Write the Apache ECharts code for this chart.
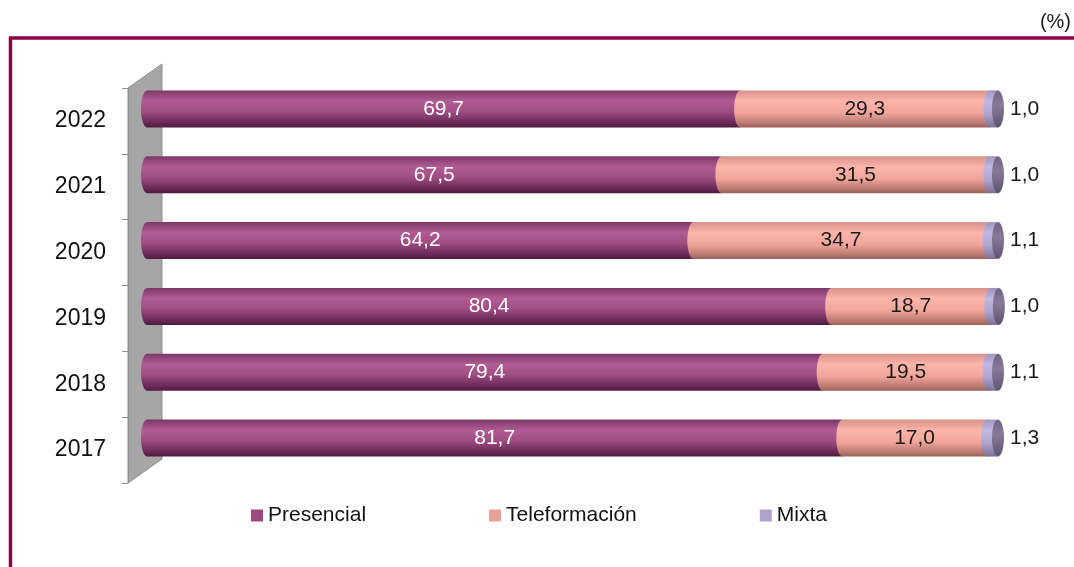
<!DOCTYPE html>
<html>
<head>
<meta charset="utf-8">
<script src="https://cdn.jsdelivr.net/npm/echarts@6/dist/echarts.min.js"></script>
<style>
  html, body { margin: 0; padding: 0; background: #fff; }
  #chart { width: 1074px; height: 567px; }
</style>
</head>
<body>
<div id="chart"></div>
<script>
const years = ['2017', '2018', '2019', '2020', '2021', '2022']
const presencial = [81.7, 79.4, 80.4, 64.2, 67.5, 69.7]
const teleformacion = [17.0, 19.5, 18.7, 34.7, 31.5, 29.3]
const mixta = [1.3, 1.1, 1.0, 1.1, 1.0, 1.0]

const FONT = "'Liberation Sans', Arial, sans-serif"
const BAR_W = 37

function grad (stops) {
  return new echarts.graphic.LinearGradient(0, 0, 0, 1,
    stops.map(s => ({ offset: s[0], color: s[1] })))
}
const cPres = () => grad([[0, '#7c3767'], [0.28, '#b15b94'], [0.55, '#a24f86'], [0.85, '#6e2b5a'], [1, '#4d1b40']])
const cTele = () => grad([[0, '#d8928a'], [0.28, '#fdb4a9'], [0.6, '#f3a79c'], [0.88, '#bb7a72'], [1, '#9a6058']])
const cMix = () => grad([[0, '#9e96be'], [0.3, '#c2b8e2'], [0.65, '#aea4cc'], [1, '#7a7094']])
const cCap = () => grad([[0, '#6f6482'], [0.4, '#857a98'], [1, '#5e5470']])

const fmt = p => p.value.toFixed(1).replace('.', ',')

// ellipse ends of the cylinders: [category, x, kind]
const caps = []
years.forEach((y, i) => {
  caps.push([i, 0, 0])
  caps.push([i, presencial[i], 1])
  caps.push([i, presencial[i] + teleformacion[i], 2])
  caps.push([i, presencial[i] + teleformacion[i] + mixta[i], 3])
})

const chart = echarts.init(document.getElementById('chart'))

const option = {
  animation: false,
  textStyle: { fontFamily: FONT },
  graphic: [
    // frame
    { type: 'line', z: 0, shape: { x1: 9, y1: 38, x2: 1074, y2: 38 }, style: { stroke: '#8c0044', lineWidth: 3.5 } },
    { type: 'line', z: 0, shape: { x1: 10.5, y1: 37, x2: 10.5, y2: 567 }, style: { stroke: '#8c0044', lineWidth: 3.5 } },
    { type: 'text', z: 0, right: 3, top: 12, style: { text: '(%)', font: '20px ' + FONT, fill: '#1a1a1a' } },
    // grey back wall
    {
      type: 'polygon', z: 0,
      shape: { points: [[128, 88], [162, 64], [162, 459], [128, 483]] },
      style: { fill: '#a6a6a6', stroke: '#8e8e8e', lineWidth: 1 }
    }
  ],
  legend: {
    left: 246,
    top: 500,
    itemWidth: 12,
    itemHeight: 12,
    itemGap: 123,
    icon: 'rect',
    textStyle: { fontSize: 21, color: '#111', fontFamily: FONT },
    data: [
      { name: 'Presencial', itemStyle: { color: '#9e4880' } },
      { name: 'Teleformación', itemStyle: { color: '#e6a096' } },
      { name: 'Mixta', itemStyle: { color: '#b0a2ca' } }
    ]
  },
  grid: [
    { left: 147, right: 76, top: 76, height: 395 },
    { left: 128, width: 34, top: 88, height: 395 }
  ],
  xAxis: [
    { gridIndex: 0, type: 'value', min: 0, max: 100, show: false },
    { gridIndex: 1, type: 'value', show: false }
  ],
  yAxis: [
    { gridIndex: 0, type: 'category', data: years, show: false },
    {
      gridIndex: 1,
      type: 'category',
      data: years,
      axisLine: { show: true, lineStyle: { color: '#8e8e8e', width: 1 } },
      axisTick: { show: true, length: 6, lineStyle: { color: '#8e8e8e' } },
      axisLabel: { margin: 22, fontSize: 23, color: '#111', fontFamily: FONT }
    }
  ],
  series: [
    {
      name: 'Presencial',
      type: 'bar',
      stack: 'total',
      barWidth: BAR_W,
      data: presencial,
      itemStyle: { color: cPres() },
      label: { show: true, position: 'inside', color: '#fff', fontSize: 21, formatter: fmt }
    },
    {
      name: 'Teleformación',
      type: 'bar',
      stack: 'total',
      barWidth: BAR_W,
      data: teleformacion,
      itemStyle: { color: cTele() },
      label: { show: true, position: 'inside', color: '#1a1a1a', fontSize: 21, formatter: fmt }
    },
    {
      name: 'Mixta',
      type: 'bar',
      stack: 'total',
      barWidth: BAR_W,
      data: mixta,
      itemStyle: { color: cMix() },
      label: { show: true, position: 'right', distance: 12, color: '#1a1a1a', fontSize: 21, formatter: fmt }
    },
    {
      type: 'custom',
      silent: true,
      z: 3,
      encode: { x: 1, y: 0 },
      data: caps,
      renderItem: function (params, api) {
        const pt = api.coord([api.value(1), api.value(0)])
        const kind = api.value(2)
        const fills = [cPres, cTele, cMix, cCap]
        return {
          type: 'ellipse',
          shape: { cx: pt[0], cy: pt[1], rx: 6, ry: BAR_W / 2 },
          style: { fill: fills[kind]() }
        }
      }
    }
  ]
}

chart.setOption(option)
</script>
</body>
</html>
